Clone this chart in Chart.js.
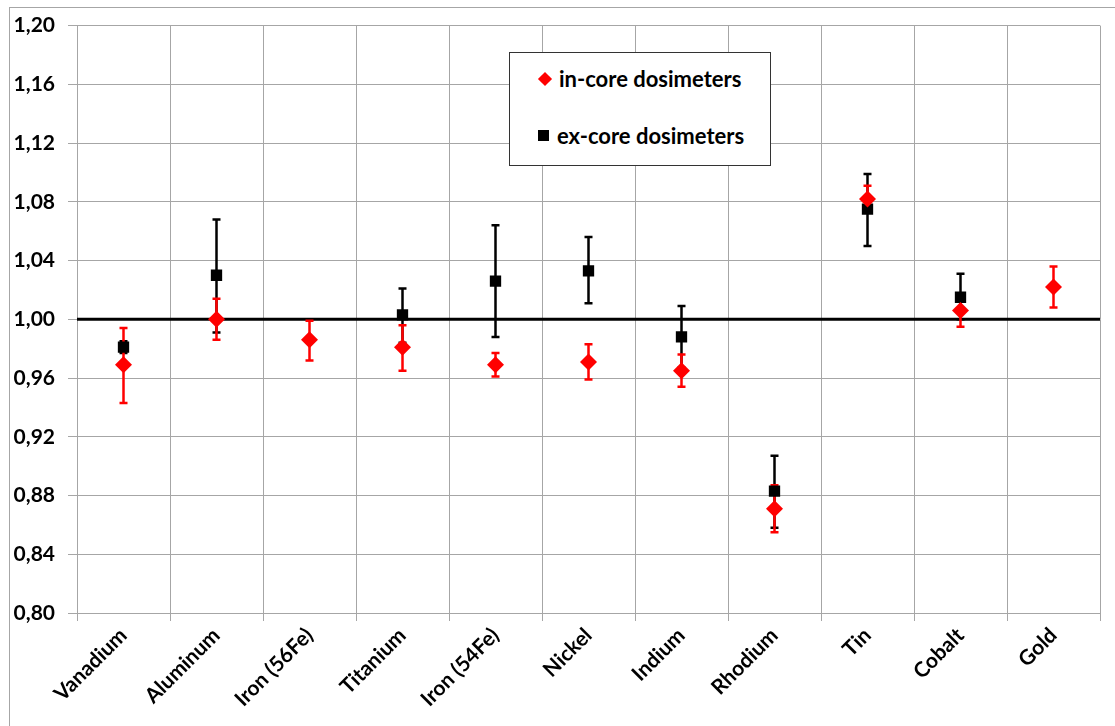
<!DOCTYPE html>
<html>
<head>
<meta charset="utf-8">
<script src="https://cdn.jsdelivr.net/npm/chart.js@4/dist/chart.umd.min.js"></script>
<style>
  html, body { margin: 0; padding: 0; background: #fff; }
  #wrap { position: relative; width: 1115px; height: 726px; overflow: hidden; }
  #frame { position: absolute; left: 9px; top: 7px; width: 1115px; height: 740px; border: 1px solid #a6a6a6; }
  #c { position: absolute; left: 0; top: 0; }
  #legend {
    position: absolute; left: 509px; top: 52px; width: 260px; height: 112px;
    border: 1px solid #333; background: #fff;
    font: bold 22px Lato, sans-serif; color: #000;
  }
  .lgItem { position: absolute; left: 28px; display: flex; align-items: center; }
  .lgItem .mk { display: inline-block; margin-right: 6px; }
</style>
</head>
<body>
<div id="wrap">
  <div id="frame"></div>
  <canvas id="c" width="1115" height="726"></canvas>
  <div id="legend"></div>
</div>
<script>
/*
  Dosimeter ratio chart: in-core vs ex-core, with error bars.
*/

const labels = ['Vanadium', 'Aluminum', 'Iron (56Fe)', 'Titanium', 'Iron (54Fe)', 'Nickel',
                'Indium', 'Rhodium', 'Tin', 'Cobalt', 'Gold'];

const inCore     = [0.969, 1.000, 0.986, 0.981, 0.969, 0.971, 0.965, 0.871, 1.082, 1.006, 1.022];
const inCoreLow  = [0.943, 0.986, 0.972, 0.965, 0.961, 0.959, 0.954, 0.855, 1.073, 0.995, 1.008];
const inCoreHigh = [0.994, 1.014, 0.999, 0.996, 0.977, 0.983, 0.976, 0.887, 1.091, 1.017, 1.036];

const exCore     = [0.981, 1.030, null, 1.003, 1.026, 1.033, 0.988, 0.883, 1.075, 1.015, null];
const exCoreLow  = [0.977, 0.991, null, 0.984, 0.988, 1.011, 0.967, 0.858, 1.050, 1.000, null];
const exCoreHigh = [0.985, 1.068, null, 1.021, 1.064, 1.056, 1.009, 0.907, 1.099, 1.031, null];

const yTicks = [0.80, 0.84, 0.88, 0.92, 0.96, 1.00, 1.04, 1.08, 1.12, 1.16, 1.20];
const refValue = 1.00;

const FONT = 'Lato, sans-serif';

// reference line at 1,00 + error bars, drawn under the markers
const errorBars = {
  id: 'errorBars',
  beforeDatasetsDraw(chart){
    const { ctx, chartArea, scales } = chart;
    const y1 = scales.y.getPixelForValue(refValue);
    ctx.save();
    ctx.strokeStyle = '#000';
    ctx.lineWidth = 3;
    ctx.beginPath();
    ctx.moveTo(chartArea.left, y1);
    ctx.lineTo(chartArea.right, y1);
    ctx.stroke();

    // black first, red on top
    for (const di of [1, 0]) {
      const ds = chart.data.datasets[di];
      const meta = chart.getDatasetMeta(di);
      ctx.strokeStyle = ds.borderColor;
      ctx.lineWidth = 2.5;
      meta.data.forEach((pt, i) => {
        if (ds.low[i] == null) return;
        const x = pt.x;
        const yl = scales.y.getPixelForValue(ds.low[i]);
        const yh = scales.y.getPixelForValue(ds.high[i]);
        ctx.beginPath();
        ctx.moveTo(x, yl); ctx.lineTo(x, yh);
        ctx.moveTo(x - 4, yl); ctx.lineTo(x + 4, yl);
        ctx.moveTo(x - 4, yh); ctx.lineTo(x + 4, yh);
        ctx.stroke();
      });
    }
    ctx.restore();
  }
};

const chart = new Chart(document.getElementById('c').getContext('2d'), {
  type: 'line',
  data: {
    labels,
    datasets: [
      {
        label: 'in-core dosimeters', data: inCore, low: inCoreLow, high: inCoreHigh,
        showLine: false, pointStyle: 'rectRot', pointRadius: 8.5,
        backgroundColor: '#ff0000', borderColor: '#ff0000', borderWidth: 0,
      },
      {
        label: 'ex-core dosimeters', data: exCore, low: exCoreLow, high: exCoreHigh,
        showLine: false, pointStyle: 'rect', pointRadius: 8,
        backgroundColor: '#000', borderColor: '#000', borderWidth: 0,
      },
    ]
  },
  options: {
    responsive: false,
    animation: false,
    events: [],
    layout: { padding: { left: 0, right: 15, top: 25, bottom: 0 } },
    plugins: { legend: { display: false }, tooltip: { enabled: false } },
    scales: {
      x: {
        offset: true,
        grid: { offset: true, color: '#a6a6a6', lineWidth: 1, tickLength: 8 },
        border: { color: '#a6a6a6' },
        ticks: {
          color: '#000', font: { family: FONT, size: 21, weight: 'bold' },
          maxRotation: 45, minRotation: 45, padding: 2, autoSkip: false,
        },
        afterFit(scale){ scale.height = 113; },
      },
      y: {
        min: 0.80, max: 1.20,
        afterBuildTicks(scale){ scale.ticks = yTicks.map(v => ({ value: v })); },
        grid: { color: '#a6a6a6', lineWidth: 1, tickLength: 9 },
        border: { color: '#a6a6a6' },
        ticks: {
          color: '#000', font: { family: FONT, size: 21, weight: 'bold' }, padding: 13,
          callback: (v) => Number(v).toFixed(2).replace('.', ','),
        },
        afterFit(scale){ scale.width = 77; },
      }
    }
  },
  plugins: [errorBars]
});

// legend box
const lg = document.getElementById('legend');
const markers = [
  '<span class="mk" style="width:10px;height:10px;background:#ff0000;transform:rotate(45deg);margin-left:2px;margin-right:9px"></span>',
  '<span class="mk" style="width:11px;height:11px;background:#000;margin-right:8px"></span>',
];
chart.data.datasets.forEach((ds, i) => {
  const item = document.createElement('div');
  item.className = 'lgItem';
  item.style.top = (i === 0 ? 12 : 69) + 'px';
  item.innerHTML = markers[i] + `<span>${ds.label}</span>`;
  lg.appendChild(item);
});
</script>
</body>
</html>
